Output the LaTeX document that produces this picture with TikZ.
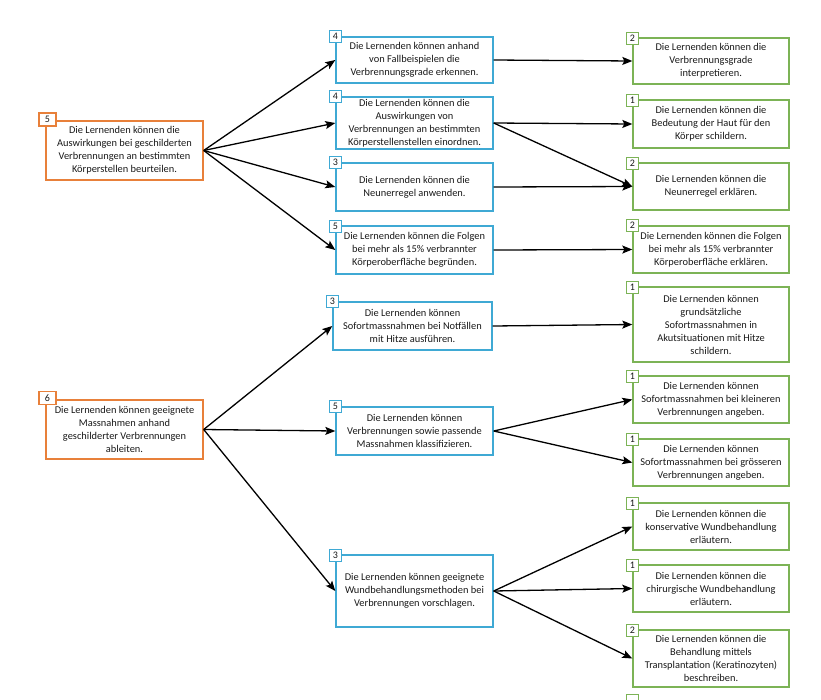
\documentclass[tikz,border=0pt]{standalone}
\usepackage{fontspec}
\setmainfont{Carlito}
\usetikzlibrary{arrows.meta}
\definecolor{orng}{HTML}{E8803A}
\definecolor{blu}{HTML}{3FA9D4}
\definecolor{grn}{HTML}{7CB356}
\definecolor{txt}{HTML}{1A1A1A}
\tikzset{
  box/.style={draw, line width=1.4pt, fill=white, rectangle, align=center, inner sep=1pt,
    text=txt, font=\fontsize{10.4}{13}\selectfont},
  obox/.style={box, draw=orng, minimum width=157pt},
  bbox/.style={box, draw=blu, minimum width=157pt},
  gbox/.style={box, draw=grn, minimum width=156pt},
  lab/.style={draw, line width=1.2pt, fill=white, rectangle, inner sep=0pt, text=txt,
    font=\fontsize{10}{10}\selectfont, minimum width=12pt, minimum height=12pt},
  olab/.style={lab, draw=orng, minimum width=17pt, minimum height=13pt},
  blab/.style={lab, draw=blu},
  glab/.style={lab, draw=grn},
  arr/.style={-{Stealth[length=10pt,width=8pt,inset=2pt]}, line width=1.3pt, black}
}
\begin{document}
\begin{tikzpicture}[x=1pt,y=-1pt]
\useasboundingbox (0,0) rectangle (821,699);
\fill[white] (0,0) rectangle (821,699);
\clip (0,0) rectangle (821,699);
% left
\node[obox, minimum height=59pt] (L1) at (124.5,150.5) {Die Lernenden können die\\Auswirkungen bei geschilderten\\Verbrennungen an bestimmten\\Körperstellen beurteilen.};
\node[obox, minimum height=59pt] (L2) at (124.5,429.5) {Die Lernenden können geeignete\\Massnahmen anhand\\geschilderter Verbrennungen\\ableiten.};
% middle
\node[bbox, minimum height=46pt] (M1) at (414.5,60) {Die Lernenden können anhand\\von Fallbeispielen die\\Verbrennungsgrade erkennen.};
\node[bbox, minimum height=52pt] (M2) at (414.5,123) {Die Lernenden können die\\Auswirkungen von\\Verbrennungen an bestimmten\\Körperstellenstellen einordnen.};
\node[bbox, minimum height=48pt] (M3) at (414.5,187) {Die Lernenden können die\\Neunerregel anwenden.};
\node[bbox, minimum height=48pt] (M4) at (414.5,250) {Die Lernenden können die Folgen\\bei mehr als 15\% verbrannter\\Körperoberfläche begründen.};
\node[bbox, minimum height=48pt, minimum width=159pt] (M5) at (412.5,326) {Die Lernenden können\\Sofortmassnahmen bei Notfällen\\mit Hitze ausführen.};
\node[bbox, minimum height=48pt] (M6) at (414.5,431) {Die Lernenden können\\Verbrennungen sowie passende\\Massnahmen klassifizieren.};
\node[bbox, minimum height=72pt] (M7) at (414.5,591) {Die Lernenden können geeignete\\Wundbehandlungsmethoden bei\\Verbrennungen vorschlagen.};
% right
\node[gbox, minimum height=46pt] (R1) at (711,61) {Die Lernenden können die\\Verbrennungsgrade\\interpretieren.};
\node[gbox, minimum height=48pt] (R2) at (711,124) {Die Lernenden können die\\Bedeutung der Haut für den\\Körper schildern.};
\node[gbox, minimum height=47pt] (R3) at (711,186.5) {Die Lernenden können die\\Neunerregel erklären.};
\node[gbox, minimum height=47pt] (R4) at (711,249.5) {Die Lernenden können die Folgen\\bei mehr als 15\% verbrannter\\Körperoberfläche erklären.};
\node[gbox, minimum height=75pt] (R5) at (711,324.5) {Die Lernenden können\\grundsätzliche\\Sofortmassnahmen in\\Akutsituationen mit Hitze\\schildern.};
\node[gbox, minimum height=47pt] (R6) at (711,399.5) {Die Lernenden können\\Sofortmassnahmen bei kleineren\\Verbrennungen angeben.};
\node[gbox, minimum height=47pt] (R7) at (711,462.5) {Die Lernenden können\\Sofortmassnahmen bei grösseren\\Verbrennungen angeben.};
\node[gbox, minimum height=47pt] (R8) at (711,526.5) {Die Lernenden können die\\konservative Wundbehandlung\\erläutern.};
\node[gbox, minimum height=47pt] (R9) at (711,588.5) {Die Lernenden können die\\chirurgische Wundbehandlung\\erläutern.};
\node[gbox, minimum height=57pt] (R10) at (711,658.5) {Die Lernenden können die\\Behandlung mittels\\Transplantation (Keratinozyten)\\beschreiben.};
\node[gbox, minimum height=47pt, anchor=north] (R11) at (711,699.5) {};
% labels
\node[olab] (L1n) at (47.5,119.5) {5};
\node[olab] (L2n) at (47.5,398) {6};
\node[blab] (M1n) at (M1.north west) {4};
\node[blab] (M2n) at (M2.north west) {4};
\node[blab] (M3n) at (M3.north west) {3};
\node[blab] (M4n) at ([yshift=-1.5pt]M4.north west) {5};
\node[blab] (M5n) at (M5.north west) {3};
\node[blab] (M6n) at (M6.north west) {5};
\node[blab] (M7n) at ([yshift=-1pt]M7.north west) {3};
\node[glab] (R1n) at ([yshift=-1pt]R1.north west) {2};
\node[glab] (R2n) at ([yshift=-1pt]R2.north west) {1};
\node[glab] (R3n) at ([yshift=-1pt]R3.north west) {2};
\node[glab] (R4n) at (R4.north west) {2};
\node[glab] (R5n) at ([yshift=-1pt]R5.north west) {1};
\node[glab] (R6n) at ([yshift=-1pt]R6.north west) {1};
\node[glab] (R7n) at ([yshift=-1pt]R7.north west) {1};
\node[glab] (R8n) at ([yshift=-1pt]R8.north west) {1};
\node[glab] (R9n) at ([yshift=-1pt]R9.north west) {1};
\node[glab] (R10n) at ([yshift=-1pt]R10.north west) {2};
\node[glab] (R11n) at ([yshift=-1pt]R11.north west) {};
% arrows
\draw[arr] (L1.east) -- (M1.west);
\draw[arr] (L1.east) -- (M2.west);
\draw[arr] (L1.east) -- (M3.west);
\draw[arr] (L1.east) -- (M4.west);
\draw[arr] (M1.east) -- (R1.west);
\draw[arr] (M2.east) -- (R2.west);
\draw[arr] (M2.east) -- (R3.west);
\draw[arr] (M3.east) -- (R3.west);
\draw[arr] (M4.east) -- (R4.west);
\draw[arr] (L2.east) -- (M5.west);
\draw[arr] (L2.east) -- (M6.west);
\draw[arr] (L2.east) -- (M7.west);
\draw[arr] (M5.east) -- (R5.west);
\draw[arr] (M6.east) -- (R6.west);
\draw[arr] (M6.east) -- (R7.west);
\draw[arr] (M7.east) -- (R8.west);
\draw[arr] (M7.east) -- (R9.west);
\draw[arr] (M7.east) -- (R10.west);
\end{tikzpicture}
\end{document}
